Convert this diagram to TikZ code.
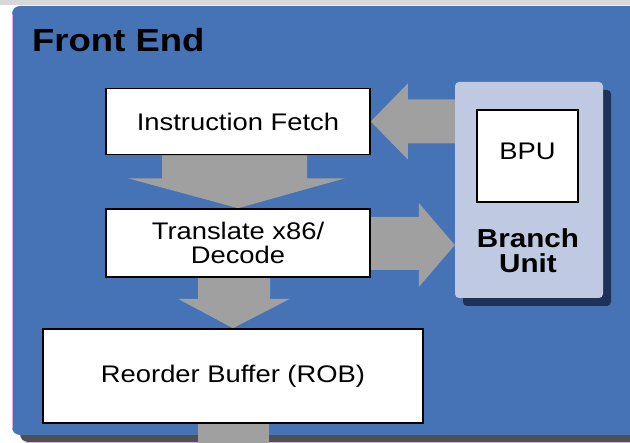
\documentclass[tikz,border=0pt]{standalone}
\usepackage{fontspec}
\setmainfont{Liberation Sans}
\usepackage{graphicx}
\usetikzlibrary{calc,shadows}

\definecolor{panelblue}{RGB}{69,115,181}
\definecolor{arrowgrey}{RGB}{160,160,160}
\definecolor{unitfill}{RGB}{191,201,226}
\definecolor{unitshadow}{RGB}{30,50,88}
\definecolor{panelshadow}{RGB}{80,80,80}
\definecolor{topband}{RGB}{216,216,216}
\definecolor{edgepink}{RGB}{222,170,232}

% slightly widened lettering
\newcommand{\wide}[1]{\scalebox{1.14}[1]{#1}}

\pgfdeclarelayer{panel}
\pgfdeclarelayer{flowlayer}
\pgfsetlayers{panel,flowlayer,main}

\begin{document}
\begin{tikzpicture}[x=1pt,y=-1pt,
  stage/.style={draw=black, line width=1.6pt, fill=white, inner sep=0pt,
    font=\fontsize{24}{24}\selectfont, align=center},
  flow/.style={fill=arrowgrey},
  unit/.style={fill=unitfill, rounded corners=4pt, inner sep=0pt,
    drop shadow={shadow xshift=8pt, shadow yshift=-8pt, fill=unitshadow, opacity=1}},
  heading/.style={inner sep=0pt, font=\fontsize{32}{32}\selectfont\bfseries},
  unitlabel/.style={inner sep=0pt, align=center, font=\fontsize{26}{25}\selectfont\bfseries},
]
\useasboundingbox (0,0) rectangle (630,443);
\clip (0,0) rectangle (630,443);

% pipeline stages
\node[stage, minimum width=264pt, minimum height=66pt] (fetch) at (238,121.5) {\wide{Instruction Fetch}};
\node[stage, minimum width=264pt, minimum height=68pt] (decode) at (238,243) {\wide{Translate x86/}\\\wide{Decode}};
\node[stage, minimum width=380pt, minimum height=94pt] (rob) at (233,376) {\wide{Reorder Buffer (ROB)}};

% branch unit with its predictor
\node[unit, minimum width=148pt, minimum height=216pt] (bu) at (529,190) {};
\node[stage, minimum width=101pt, minimum height=92pt] (bpu) at (527.5,156) {};
\node[anchor=base, inner sep=0pt, font=\fontsize{24}{24}\selectfont] (bputext) at (527.5,160) {\wide{BPU}};
\node[unitlabel] (bulabel) at (528,251) {\wide{Branch}\\\wide{Unit}};

\node[heading, anchor=base west] (title) at (32,52) {\wide{Front End}};

\coordinate (out) at (233,450);

\begin{pgfonlayer}{panel}
  \fill[white] (0,0) rectangle (630,443);
  \fill[topband] (0,0) rectangle (630,5);
  \fill[panelshadow, rounded corners=8pt] (20,20) rectangle (660,442);
  \fill[panelblue, rounded corners=8pt] (12,6) rectangle (660,435);
  \draw[edgepink, line width=0.8pt] (12.4,14) -- (12.4,428);
  \draw[edgepink, line width=0.8pt] (26,442.8) -- (630,442.8);
\end{pgfonlayer}

\begin{pgfonlayer}{flowlayer}
  % fetch -> decode
  \fill[flow] ($(fetch.south)+(-76,0)$) -- ($(fetch.south)+(-76,23)$)
    -- ($(fetch.south)+(-110,23)$) -- (decode.north)
    -- ($(fetch.south)+(107,23)$) -- ($(fetch.south)+(69,23)$)
    -- ($(fetch.south)+(69,0)$) -- cycle;
  % decode -> reorder buffer
  \fill[flow] ($(decode.south)+(-40,0)$) -- ($(decode.south)+(-40,21)$)
    -- ($(decode.south)+(-60,21)$) -- (rob.north)
    -- ($(decode.south)+(52,21)$) -- ($(decode.south)+(32,21)$)
    -- ($(decode.south)+(32,0)$) -- cycle;
  % reorder buffer -> onward
  \fill[flow] ($(rob.south)+(-35,0)$) -- ($(out)+(-35,0)$)
    -- ($(out)+(36,0)$) -- ($(rob.south)+(36,0)$) -- cycle;
  % branch unit -> fetch
  \fill[flow] ($(fetch.east -| bu.west)+(0,-22)$) -- ($(fetch.east)+(37,-22)$)
    -- ($(fetch.east)+(37,-38)$) -- (fetch.east)
    -- ($(fetch.east)+(37,38)$) -- ($(fetch.east)+(37,22)$)
    -- ($(fetch.east -| bu.west)+(0,22)$) -- cycle;
  % decode -> branch unit
  \fill[flow] ($(decode.east)+(0,-26)$) -- ($(decode.east)+(48,-26)$)
    -- ($(decode.east)+(48,-40)$) -- ($(decode.east -| bu.west)+(0,2)$)
    -- ($(decode.east)+(48,44)$) -- ($(decode.east)+(48,27)$)
    -- ($(decode.east)+(0,27)$) -- cycle;
\end{pgfonlayer}
\end{tikzpicture}
\end{document}
